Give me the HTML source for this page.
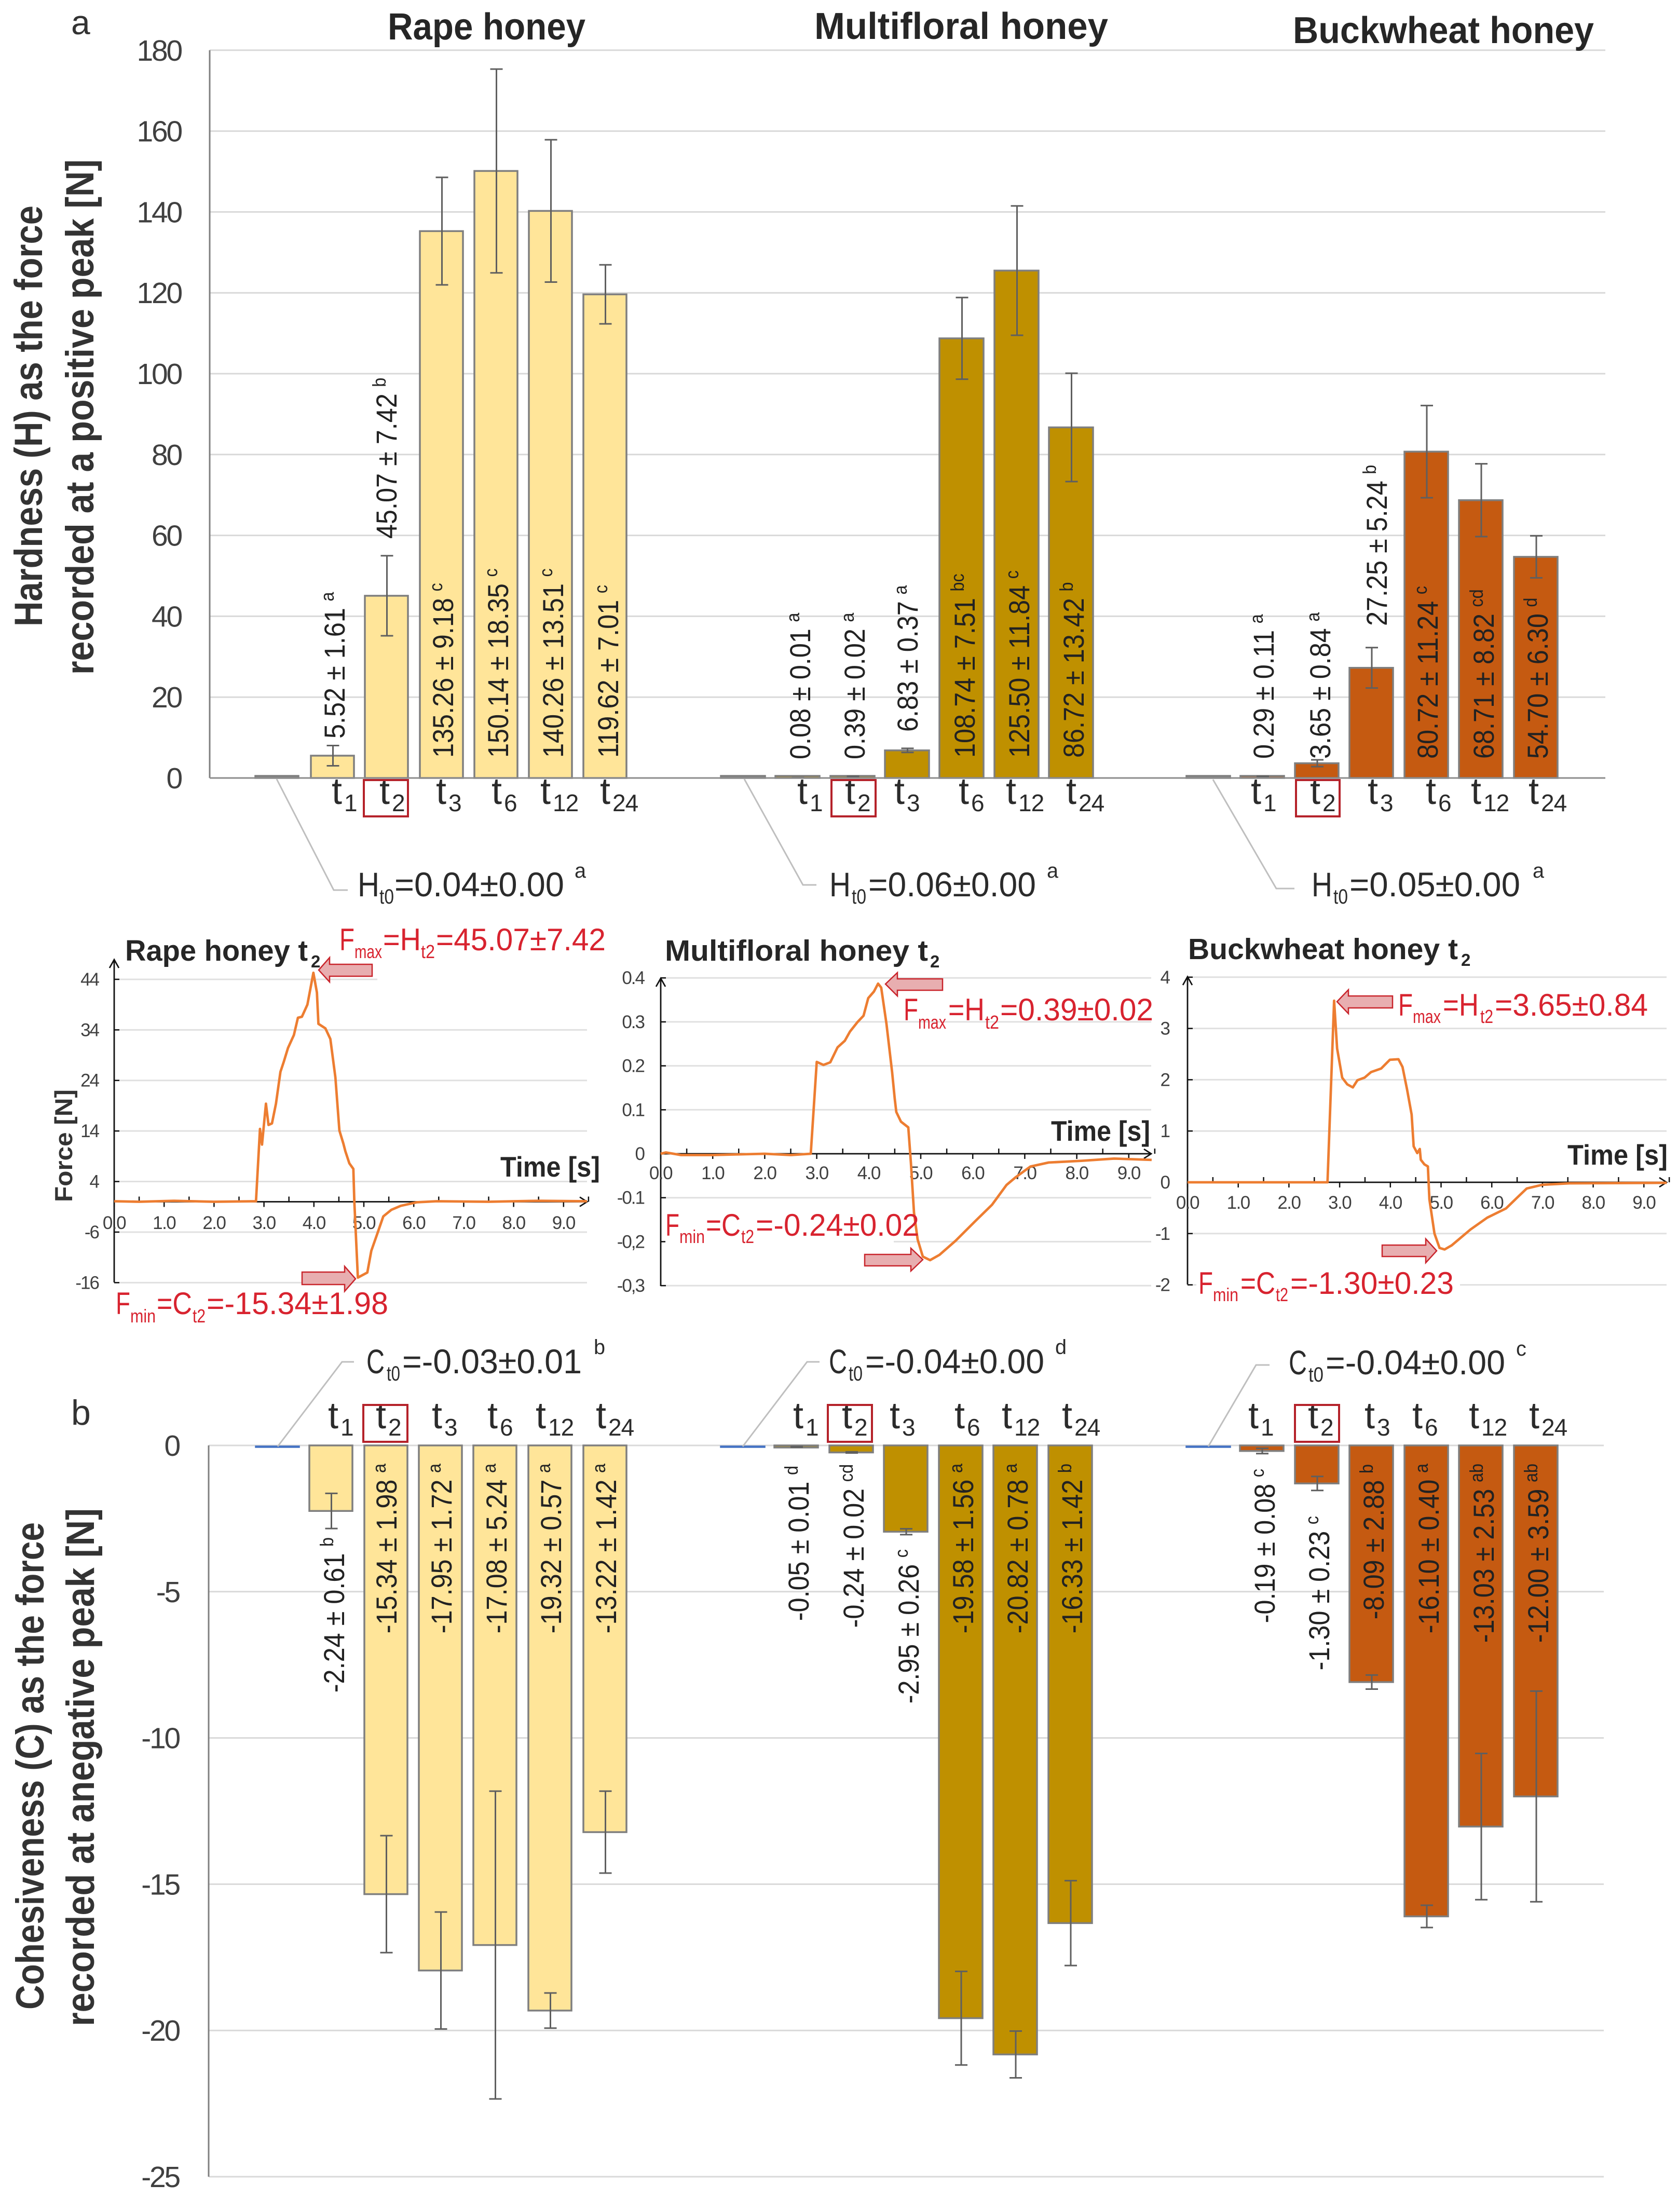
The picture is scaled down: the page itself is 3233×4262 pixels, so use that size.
<!DOCTYPE html>
<html lang="en">
<head>
<meta charset="utf-8">
<title>Hardness and cohesiveness of honey</title>
<style>
html,body{margin:0;padding:0;background:#fff;}
svg{display:block;font-family:"Liberation Sans",sans-serif;}
</style>
</head>
<body>
<svg id="fig" xmlns="http://www.w3.org/2000/svg" width="3233" height="4262" viewBox="0 0 3233 4262">
  <rect width="3233" height="4262" fill="#fff"/>
  <g id="chartA"></g>
  <g id="force1"></g>
  <g id="force2"></g>
  <g id="force3"></g>
  <g id="chartB"></g>
  <g id="notes"></g>

  <text x="137" y="66" font-size="66" fill="#333">a</text>
  <text x="137" y="2745" font-size="68" fill="#333">b</text>

  <g font-weight="bold" fill="#262626">
    <text x="747" y="76" font-size="72" textLength="381" lengthAdjust="spacingAndGlyphs">Rape honey</text>
    <text x="1569" y="75" font-size="72" textLength="566" lengthAdjust="spacingAndGlyphs">Multifloral honey</text>
    <text x="2491" y="83" font-size="72" textLength="580" lengthAdjust="spacingAndGlyphs">Buckwheat honey</text>
  </g>

  <g font-weight="bold" fill="#333" font-size="76">
    <text transform="translate(81,1207) rotate(-90)" textLength="811" lengthAdjust="spacingAndGlyphs">Hardness (H) as the force</text>
    <text transform="translate(180,1300) rotate(-90)" textLength="993" lengthAdjust="spacingAndGlyphs">recorded at a positive peak [N]</text>
    <text transform="translate(84,3872) rotate(-90)" textLength="939" lengthAdjust="spacingAndGlyphs">Cohesiveness (C) as the force</text>
    <text transform="translate(181,3904) rotate(-90)" textLength="998" lengthAdjust="spacingAndGlyphs">recorded at anegative peak [N]</text>
  </g>

  <text transform="translate(139,2316) rotate(-90)" font-size="47" font-weight="bold" fill="#333" textLength="217" lengthAdjust="spacingAndGlyphs">Force [N]</text>

  <g font-weight="bold" fill="#262626" font-size="55">
    <text x="964" y="2267" textLength="192" lengthAdjust="spacingAndGlyphs">Time [s]</text>
    <text x="2025" y="2198" textLength="191" lengthAdjust="spacingAndGlyphs">Time [s]</text>
    <text x="3020" y="2244" textLength="193" lengthAdjust="spacingAndGlyphs">Time [s]</text>
  </g>

  <g font-weight="bold" fill="#262626">
    <text x="241" y="1851" font-size="57" textLength="352" lengthAdjust="spacingAndGlyphs">Rape honey t</text>
    <text x="599" y="1864" font-size="33">2</text>
    <text x="1281" y="1851" font-size="57" textLength="507" lengthAdjust="spacingAndGlyphs">Multifloral honey t</text>
    <text x="1792" y="1864" font-size="33">2</text>
    <text x="2289" y="1848" font-size="57" textLength="520" lengthAdjust="spacingAndGlyphs">Buckwheat honey t</text>
    <text x="2815" y="1861" font-size="33">2</text>
  </g>

  <g fill="#e8aeb0" stroke="#c9252c" stroke-width="2.5">
    <polygon points="614,1869 635,1845 635,1858 717,1858 717,1881 635,1881 635,1892"/>
    <polygon points="685,2464 664,2440 664,2451 582,2451 582,2475 664,2475 664,2488"/>
    <polygon points="1706,1896 1729,1874 1729,1886 1816,1886 1816,1908 1729,1908 1729,1919"/>
    <polygon points="1778,2427 1755,2405 1755,2417 1666,2417 1666,2439 1755,2439 1755,2449"/>
    <polygon points="2576,1930 2598,1907 2598,1919 2683,1919 2683,1942 2598,1942 2598,1953"/>
    <polygon points="2768,2410 2747,2387 2747,2399 2663,2399 2663,2421 2747,2421 2747,2433"/>
  </g>

  <g fill="none" stroke="#bfbfbf" stroke-width="3">
    <polyline points="533,1501 643,1715 670,1715"/>
    <polyline points="1434,1501 1547,1705 1573,1705"/>
    <polyline points="2337,1502 2459,1712 2494,1712"/>
    <polyline points="535,2787 659,2624 682,2624"/>
    <polyline points="1431,2787 1555,2624 1579,2624"/>
    <polyline points="2328,2787 2420,2630 2446,2630"/>
  </g>

  <g fill="none" stroke="#b5222a" stroke-width="4">
    <rect x="701" y="1503" width="85" height="70"/>
    <rect x="1602" y="1503" width="85" height="70"/>
    <rect x="2497" y="1503" width="84" height="70"/>
    <rect x="700" y="2707" width="85" height="71"/>
    <rect x="1595" y="2707" width="85" height="71"/>
    <rect x="2495" y="2707" width="85" height="71"/>
  </g>
</svg>

<script>
// ---------- categories ----------
const categories = ['t0', 't1', 't2', 't3', 't6', 't12', 't24'];

// ---------- panel a: hardness ----------
const hardnessTicks = [0, 20, 40, 60, 80, 100, 120, 140, 160, 180];
const rapeHardness = [0.04, 5.52, 45.07, 135.26, 150.14, 140.26, 119.62];
const rapeHardnessErr = [0, 2.5, 9.9, 13.3, 25.2, 17.6, 7.3];
const rapeHardnessText = ['5.52 ± 1.61', '45.07 ± 7.42', '135.26 ± 9.18', '150.14 ± 18.35', '140.26 ± 13.51', '119.62 ± 7.01'];
const rapeHardnessLetters = ['a', 'b', 'c', 'c', 'c', 'c'];
const multiHardness = [0.06, 0.08, 0.39, 6.83, 108.74, 125.5, 86.72];
const multiHardnessErr = [0, 0.01, 0.02, 0.5, 10.1, 16, 13.4];
const multiHardnessText = ['0.08 ± 0.01', '0.39 ± 0.02', '6.83 ± 0.37', '108.74 ± 7.51', '125.50 ± 11.84', '86.72 ± 13.42'];
const multiHardnessLetters = ['a', 'a', 'a', 'bc', 'c', 'b'];
const buckHardness = [0.05, 0.29, 3.65, 27.25, 80.72, 68.71, 54.7];
const buckHardnessErr = [0, 0.11, 0.84, 5, 11.4, 9, 5.2];
const buckHardnessText = ['0.29 ± 0.11', '3.65 ± 0.84', '27.25 ± 5.24', '80.72 ± 11.24', '68.71 ± 8.82', '54.70 ± 6.30'];
const buckHardnessLetters = ['a', 'a', 'b', 'c', 'cd', 'd'];

// ---------- panel b: cohesiveness ----------
const cohesivenessTicks = [0, -5, -10, -15, -20, -25];
const rapeCohesion = [-0.03, -2.24, -15.34, -17.95, -17.08, -19.32, -13.22];
const rapeCohesionErr = [0, 0.6, 2.0, 2.0, 5.26, 0.6, 1.4];
const rapeCohesionText = ['-2.24 ± 0.61', '-15.34 ± 1.98', '-17.95 ± 1.72', '-17.08 ± 5.24', '-19.32 ± 0.57', '-13.22 ± 1.42'];
const rapeCohesionLetters = ['b', 'a', 'a', 'a', 'a', 'a'];
const multiCohesion = [-0.04, -0.05, -0.24, -2.95, -19.58, -20.82, -16.33];
const multiCohesionErr = [0, 0.01, 0.02, 0.1, 1.6, 0.8, 1.45];
const multiCohesionText = ['-0.05 ± 0.01', '-0.24 ± 0.02', '-2.95 ± 0.26', '-19.58 ± 1.56', '-20.82 ± 0.78', '-16.33 ± 1.42'];
const multiCohesionLetters = ['d', 'cd', 'c', 'a', 'a', 'b'];
const buckCohesion = [-0.04, -0.19, -1.3, -8.09, -16.1, -13.03, -12.0];
const buckCohesionErr = [0, 0.09, 0.24, 0.24, 0.38, 2.5, 3.6];
const buckCohesionText = ['-0.19 ± 0.08', '-1.30 ± 0.23', '-8.09 ± 2.88', '-16.10 ± 0.40', '-13.03 ± 2.53', '-12.00 ± 3.59'];
const buckCohesionLetters = ['c', 'c', 'b', 'a', 'ab', 'ab'];

// ---------- force curves ----------
const timeTicks = [0, 1, 2, 3, 4, 5, 6, 7, 8, 9];
const timeTickLabels = ['0.0', '1.0', '2.0', '3.0', '4.0', '5.0', '6.0', '7.0', '8.0', '9.0'];
const rapeForceTicks = [44, 34, 24, 14, 4, -6, -16];
const rapeForceTickLabels = ['44', '34', '24', '14', '4', '-6', '-16'];
const multiForceTicks = [0.4, 0.3, 0.2, 0.1, 0, -0.1, -0.2, -0.3];
const multiForceTickLabels = ['0.4', '0.3', '0.2', '0.1', '0', '-0.1', '-0,2', '-0,3'];
const buckForceTicks = [4, 3, 2, 1, 0, -1, -2];
const buckForceTickLabels = ['4', '3', '2', '1', '0', '-1', '-2'];

const rapeTime = [0, 0.5, 1.2, 2, 2.84, 2.92, 2.96, 3.04, 3.09, 3.16, 3.24, 3.33, 3.4, 3.48, 3.6, 3.68, 3.76, 3.87, 3.99, 4.06, 4.09, 4.23, 4.33, 4.43, 4.51, 4.59, 4.63, 4.71, 4.79, 4.81, 4.88, 5.07, 5.15, 5.27, 5.39, 5.55, 5.74, 6.06, 6.46, 7.5, 8.5, 9.47];
const rapeForce = [0.1, 0, 0.2, 0, 0.1, 14.4, 11.3, 19.4, 15.2, 15.5, 19.4, 25.7, 27.8, 30.4, 33, 36.4, 36.6, 39, 45.3, 41.4, 35.2, 34.3, 32.2, 24.6, 14.1, 11.5, 10, 7.6, 6.5, 0, -15, -14, -9.7, -6.3, -2.9, -1.6, -0.8, -0.1, 0.1, 0, 0.2, 0.1];
const multiTime = [0, 0.1, 0.39, 1, 2, 2.5, 2.885, 3, 3.13, 3.26, 3.4, 3.54, 3.64, 3.78, 3.9, 3.99, 4.1, 4.18, 4.24, 4.34, 4.45, 4.5, 4.53, 4.62, 4.76, 4.81, 4.87, 4.94, 5.04, 5.18, 5.36, 5.67, 6.06, 6.37, 6.65, 6.83, 7.11, 7.46, 8.09, 8.72, 9.44];
const multiForce = [0, 0.003, -0.003, -0.003, 0, -0.003, 0, 0.209, 0.202, 0.208, 0.242, 0.257, 0.278, 0.299, 0.314, 0.354, 0.369, 0.387, 0.378, 0.296, 0.185, 0.125, 0.095, 0.073, 0.06, -0.02, -0.134, -0.195, -0.234, -0.242, -0.23, -0.198, -0.152, -0.116, -0.071, -0.053, -0.029, -0.02, -0.016, -0.011, -0.014];
const buckTime = [0, 2.76, 2.89, 2.95, 3.05, 3.15, 3.26, 3.35, 3.49, 3.62, 3.82, 3.99, 4.16, 4.24, 4.33, 4.42, 4.46, 4.53, 4.58, 4.6, 4.67, 4.74, 4.77, 4.87, 4.97, 5.07, 5.21, 5.58, 5.91, 6.28, 6.52, 6.69, 6.99, 7.53, 9.45];
const buckForce = [0, 0, 3.54, 2.61, 2.04, 1.91, 1.85, 1.99, 2.04, 2.15, 2.22, 2.39, 2.4, 2.25, 1.81, 1.32, 0.7, 0.57, 0.65, 0.44, 0.35, 0.31, -0.33, -1, -1.28, -1.31, -1.23, -0.92, -0.69, -0.51, -0.28, -0.12, -0.05, -0.02, -0.01];

// ---------- helpers ----------
const NS = 'http://www.w3.org/2000/svg';
function mk(tag, parent, attrs) {
  const el = document.createElementNS(NS, tag);
  for (const k in attrs) el.setAttribute(k, attrs[k]);
  parent.appendChild(el);
  return el;
}
const $ = id => document.getElementById(id);

// axis scales
const yHard = v => 1499 - 7.79 * v;
const yCoh = v => 2785 - 56.36 * v;

function barAxis(g, ticks, yScale, xAxis, gridEnd, labelRight, prefix) {
  ticks.forEach(t => {
    const grid = mk('line', g, {x1: xAxis, x2: gridEnd, y1: yScale(t), y2: yScale(t), stroke: '#d9d9d9', 'stroke-width': 3});
    
    
    const lab = mk('text', g, {x: labelRight, y: yScale(t) + 20, 'text-anchor': 'end', 'font-size': 57, 'letter-spacing': -3.2, fill: '#404040'});
    lab.textContent = String(t);
    
    
  });
  const ys = ticks.map(yScale);
  const axis = mk('line', g, {x1: xAxis, x2: xAxis, y1: Math.min(...ys), y2: Math.max(...ys), stroke: '#7f7f7f', 'stroke-width': 3});
  
  
}

function barGroup(g, cfg) {
  const y0 = cfg.yScale(0);
  cfg.values.forEach((v, i) => {
    const left = cfg.lefts[i];
    const y = cfg.yScale(v);
    const h = Math.max(Math.abs(y - y0), 4);
    const top = cfg.negative ? y0 : y0 - h;
    const isBase = i === 0;
    const bar = mk('rect', g, {
      x: left, y: cfg.negative && isBase ? y0 + 2 : top,
      width: cfg.width, height: isBase && cfg.negative ? 1 : h,
      fill: isBase ? (cfg.negative ? '#4472c4' : '#8a8a8a') : cfg.color,
      stroke: isBase && cfg.negative ? '#4472c4' : '#7f7f7f', 'stroke-width': 3.5
    });
    
    
  });
  cfg.errs.forEach((e, i) => {
    if (i === 0 || e === 0) return;
    const cx = cfg.lefts[i] + cfg.width / 2 + 1;
    const a = cfg.yScale(cfg.values[i] + e), b = cfg.yScale(cfg.values[i] - e);
    const stem = mk('path', g, {
      d: 'M' + cx + ' ' + a + 'V' + b + 'M' + (cx - 12) + ' ' + a + 'H' + (cx + 12) + 'M' + (cx - 12) + ' ' + b + 'H' + (cx + 12),
      stroke: '#5f5f5f', 'stroke-width': 3, fill: 'none'
    });
    
    
  });
  cfg.text.forEach((s, i) => {
    const bx = cfg.textX[i] + 20, by = cfg.textY[i];
    const t = mk('text', g, {
      transform: 'translate(' + bx + ',' + by + ') rotate(-90) scale(0.9,1)',
      'text-anchor': cfg.negative ? 'end' : 'start',
      'font-size': 56, fill: '#222'
    });
    
    
    const main = mk('tspan', t, {});
    main.textContent = s;
    const sup = mk('tspan', t, {dx: 14, dy: -21, 'font-size': 36});
    sup.textContent = cfg.letters[i];
  });
  categories.slice(1).forEach((c, i) => {
    const lab = mk('text', g, {x: cfg.tickX[i], y: cfg.tickY, 'font-size': 72, fill: '#2b2b2b'});
    
    
    const m = mk('tspan', lab, {});
    m.textContent = c.charAt(0);
    const s = mk('tspan', lab, {x: cfg.tickX[i] + 24, y: cfg.tickY + 14, 'font-size': 46, 'letter-spacing': -1});
    s.textContent = c.slice(1);
  });
}

function forcePanel(g, cfg) {
  const X = t => cfg.x0 + cfg.pxPerS * t;
  const Y = v => cfg.yZero - cfg.pxPerUnit * v;
  cfg.ticks.forEach((t, i) => {
    const grid = mk('line', g, {x1: cfg.x0, x2: cfg.xEnd, y1: Y(t), y2: Y(t), stroke: '#e0e0e0', 'stroke-width': 3});
    
    
    const tick = mk('line', g, {x1: cfg.x0, x2: cfg.x0 + 10, y1: Y(t), y2: Y(t), stroke: '#111', 'stroke-width': 2.5});
    
    
    const lab = mk('text', g, {x: cfg.labelRight, y: Y(t) + 12, 'text-anchor': 'end', 'font-size': 35, 'letter-spacing': -2, fill: '#404040'});
    lab.textContent = cfg.tickLabels[i];
    
    
  });
  cfg.masks.forEach(r => {
    const m = mk('rect', g, {x: r[0], y: r[1], width: r[2], height: r[3], fill: '#fff'});
    
    
  });
  const ya = mk('path', g, {
    d: 'M' + cfg.x0 + ' ' + cfg.yAxisBottom + 'V' + cfg.yAxisTop + 'M' + (cfg.x0 - 9) + ' ' + (cfg.yAxisTop + 16) + 'L' + cfg.x0 + ' ' + cfg.yAxisTop + 'L' + (cfg.x0 + 9) + ' ' + (cfg.yAxisTop + 16),
    stroke: '#111', 'stroke-width': 2.8, fill: 'none'
  });
  
  
  const xa = mk('path', g, {
    d: 'M' + cfg.x0 + ' ' + cfg.yZero + 'H' + cfg.xEnd + 'M' + (cfg.xEnd - 14) + ' ' + (cfg.yZero - 9) + 'L' + cfg.xEnd + ' ' + cfg.yZero + 'L' + (cfg.xEnd - 14) + ' ' + (cfg.yZero + 9),
    stroke: '#111', 'stroke-width': 2.8, fill: 'none'
  });
  
  
  timeTicks.forEach((t, i) => {
    const down = mk('line', g, {x1: X(t), x2: X(t), y1: cfg.yZero, y2: cfg.yZero + 10, stroke: '#111', 'stroke-width': 2.5});
    
    
    const up = mk('line', g, {x1: X(t + 0.5), x2: X(t + 0.5), y1: cfg.yZero, y2: cfg.yZero - 10, stroke: '#111', 'stroke-width': 2.5});
    
    
    const lab = mk('text', g, {x: X(t), y: cfg.labelY + 12, 'text-anchor': 'middle', 'font-size': 35, 'letter-spacing': -1.5, fill: '#404040'});
    lab.textContent = timeTickLabels[i];
    
    
  });
  const pts = cfg.time.map((t, i) => X(t).toFixed(1) + ',' + Y(cfg.force[i]).toFixed(1)).join(' ');
  const line = mk('polyline', g, {points: pts, fill: 'none', stroke: '#ed7d31', 'stroke-width': 4.8, 'stroke-linejoin': 'round'});
  
  
}

// parts: [text, xStart, xEnd or null, kind]
function rich(name, baseline, subBase, supBase, size, color, parts) {
  const g = mk('g', $('notes'), {fill: color});
  
  
  parts.forEach(p => {
    const kind = p[3];
    const y = kind === 'sub' ? subBase : kind === 'sup' ? supBase : baseline;
    const fs = kind === 'main' ? size : size * 0.6;
    const t = mk('text', g, {x: p[1], y: y, 'font-size': fs});
    if (p[2]) {
      t.setAttribute('textLength', p[2] - p[1]);
      t.setAttribute('lengthAdjust', 'spacingAndGlyphs');
    }
    t.textContent = p[0];
    
    
  });
}

// ---------- panel a ----------
const A = $('chartA');
barAxis(A, hardnessTicks, yHard, 404, 3093, 349, 'hardness');
barGroup(A, {name: 'hardness-rape', yScale: yHard, values: rapeHardness, errs: rapeHardnessErr, text: rapeHardnessText, letters: rapeHardnessLetters, color: '#ffe599', width: 83,
  lefts: [492, 599, 703, 809, 914, 1019, 1124], textX: [644, 744, 853, 959, 1065, 1171], textY: [1423, 1038, 1460, 1460, 1460, 1460], tickX: [639, 731, 840, 947, 1041, 1156], tickY: 1549});
barGroup(A, {name: 'hardness-multifloral', yScale: yHard, values: multiHardness, errs: multiHardnessErr, text: multiHardnessText, letters: multiHardnessLetters, color: '#bf9000', width: 85,
  lefts: [1389, 1494, 1600, 1705, 1810, 1916, 2021], textX: [1541, 1646, 1748, 1858, 1963, 2068], textY: [1463, 1463, 1410, 1460, 1460, 1460], tickX: [1536, 1628, 1723, 1847, 1938, 2054], tickY: 1549});
barGroup(A, {name: 'hardness-buckwheat', yScale: yHard, values: buckHardness, errs: buckHardnessErr, text: buckHardnessText, letters: buckHardnessLetters, color: '#c55a11', width: 84,
  lefts: [2286, 2390, 2495, 2600, 2706, 2811, 2917], textX: [2434, 2543, 2652, 2750, 2858, 2962], textY: [1462, 1462, 1206, 1462, 1462, 1462], tickX: [2410, 2524, 2635, 2747, 2834, 2945], tickY: 1549});
const baseA = mk('line', A, {x1: 404, x2: 3093, y1: 1499, y2: 1499, stroke: '#8c8c8c', 'stroke-width': 3});



// ---------- force panels ----------
forcePanel($('force1'), {x0: 220, pxPerS: 96.2, xEnd: 1131, yZero: 2315.5, pxPerUnit: 9.74, yAxisTop: 1849, yAxisBottom: 2471, labelRight: 190, labelY: 2356,
  ticks: rapeForceTicks, tickLabels: rapeForceTickLabels, time: rapeTime, force: rapeForce, masks: [[727, 1878, 410, 14]]});
forcePanel($('force2'), {x0: 1273, pxPerS: 100.2, xEnd: 2218, yZero: 2223, pxPerUnit: 847, yAxisTop: 1885, yAxisBottom: 2478, labelRight: 1241, labelY: 2260,
  ticks: multiForceTicks, tickLabels: multiForceTickLabels, time: multiTime, force: multiForce, masks: [[1282, 2345, 440, 60]]});
forcePanel($('force3'), {x0: 2288, pxPerS: 97.7, xEnd: 3211, yZero: 2278, pxPerUnit: 98.8, yAxisTop: 1882, yAxisBottom: 2475, labelRight: 2253, labelY: 2317,
  ticks: buckForceTicks, tickLabels: buckForceTickLabels, time: buckTime, force: buckForce, masks: [[2305, 2460, 508, 40]]});

// ---------- panel b ----------
const B = $('chartB');
barAxis(B, cohesivenessTicks, yCoh, 402, 3090, 345, 'cohesiveness');
barGroup(B, {name: 'cohesiveness-rape', negative: true, yScale: yCoh, values: rapeCohesion, errs: rapeCohesionErr, text: rapeCohesionText, letters: rapeCohesionLetters, color: '#ffe599', width: 83,
  lefts: [493, 596, 702, 807, 912, 1018, 1124], textX: [643, 744, 850, 956, 1061, 1167], textY: [2962, 2820, 2820, 2820, 2820, 2820], tickX: [632, 724, 832, 939, 1032, 1148], tickY: 2752});
barGroup(B, {name: 'cohesiveness-multifloral', negative: true, yScale: yCoh, values: multiCohesion, errs: multiCohesionErr, text: multiCohesionText, letters: multiCohesionLetters, color: '#bf9000', width: 84,
  lefts: [1389, 1492, 1598, 1703, 1809, 1914, 2020], textX: [1538, 1644, 1750, 1855, 1960, 2065], textY: [2824, 2821, 2985, 2820, 2820, 2820], tickX: [1528, 1622, 1714, 1839, 1930, 2046], tickY: 2752});
barGroup(B, {name: 'cohesiveness-buckwheat', negative: true, yScale: yCoh, values: buckCohesion, errs: buckCohesionErr, text: buckCohesionText, letters: buckCohesionLetters, color: '#c55a11', width: 84,
  lefts: [2286, 2389, 2495, 2600, 2706, 2811, 2917], textX: [2436, 2541, 2646, 2752, 2858, 2963], textY: [2830, 2921, 2821, 2820, 2820, 2820], tickX: [2405, 2520, 2629, 2721, 2830, 2946], tickY: 2752});

// ---------- annotations ----------
const red = '#d8232f', ink = '#2b2b2b';
rich('fmax-label-rape', 1831, 1846, 0, 60, red, [['F', 654, 683, 'main'], ['max', 683, 736, 'sub'], ['=H', 738, 811, 'main'], ['t2', 811, 838, 'sub'], ['=45.07±7.42', 840, 1167, 'main']]);
rich('fmin-label-rape', 2532, 2548, 0, 60, red, [['F', 223, 251, 'main'], ['min', 251, 300, 'sub'], ['=C', 302, 370, 'main'], ['t2', 371, 396, 'sub'], ['=-15.34±1.98', 398, 748, 'main']]);
rich('fmax-label-multifloral', 1966, 1982, 0, 60, red, [['F', 1741, 1769, 'main'], ['max', 1769, 1823, 'sub'], ['=H', 1827, 1897, 'main'], ['t2', 1898, 1925, 'sub'], ['=0.39±0.02', 1927, 2222, 'main']]);
rich('fmin-label-multifloral', 2381, 2395, 0, 60, red, [['F', 1282, 1309, 'main'], ['min', 1309, 1358, 'sub'], ['=C', 1360, 1427, 'main'], ['t2', 1428, 1453, 'sub'], ['=-0.24±0.02', 1456, 1771, 'main']]);
rich('fmax-label-buckwheat', 1957, 1971, 0, 60, red, [['F', 2694, 2722, 'main'], ['max', 2722, 2776, 'sub'], ['=H', 2780, 2849, 'main'], ['t2', 2852, 2877, 'sub'], ['=3.65±0.84', 2880, 3175, 'main']]);
rich('fmin-label-buckwheat', 2493, 2507, 0, 60, red, [['F', 2309, 2337, 'main'], ['min', 2337, 2386, 'sub'], ['=C', 2390, 2457, 'main'], ['t2', 2458, 2482, 'sub'], ['=-1.30±0.23', 2486, 2801, 'main']]);

rich('h0-callout-rape', 1727, 1741, 1691, 66, ink, [['H', 689, 731, 'main'], ['t0', 731, 759, 'sub'], ['=0.04±0.00', 760, 1087, 'main'], ['a', 1107, null, 'sup']]);
rich('h0-callout-multifloral', 1727, 1741, 1691, 66, ink, [['H', 1598, 1639, 'main'], ['t0', 1641, 1669, 'sub'], ['=0.06±0.00', 1673, 1996, 'main'], ['a', 2017, null, 'sup']]);
rich('h0-callout-buckwheat', 1727, 1741, 1691, 66, ink, [['H', 2527, 2567, 'main'], ['t0', 2569, 2597, 'sub'], ['=0.05±0.00', 2600, 2929, 'main'], ['a', 2953, null, 'sup']]);
rich('c0-callout-rape', 2646, 2660, 2609, 66, ink, [['C', 706, 741, 'main'], ['t0', 745, 771, 'sub'], ['=-0.03±0.01', 775, 1121, 'main'], ['b', 1144, null, 'sup']]);
rich('c0-callout-multifloral', 2646, 2660, 2609, 66, ink, [['C', 1597, 1632, 'main'], ['t0', 1635, 1662, 'sub'], ['=-0.04±0.00', 1667, 2012, 'main'], ['d', 2033, null, 'sup']]);
rich('c0-callout-buckwheat', 2648, 2662, 2612, 66, ink, [['C', 2483, 2518, 'main'], ['t0', 2521, 2550, 'sub'], ['=-0.04±0.00', 2554, 2900, 'main'], ['c', 2921, null, 'sup']]);
</script>
</body>
</html>
